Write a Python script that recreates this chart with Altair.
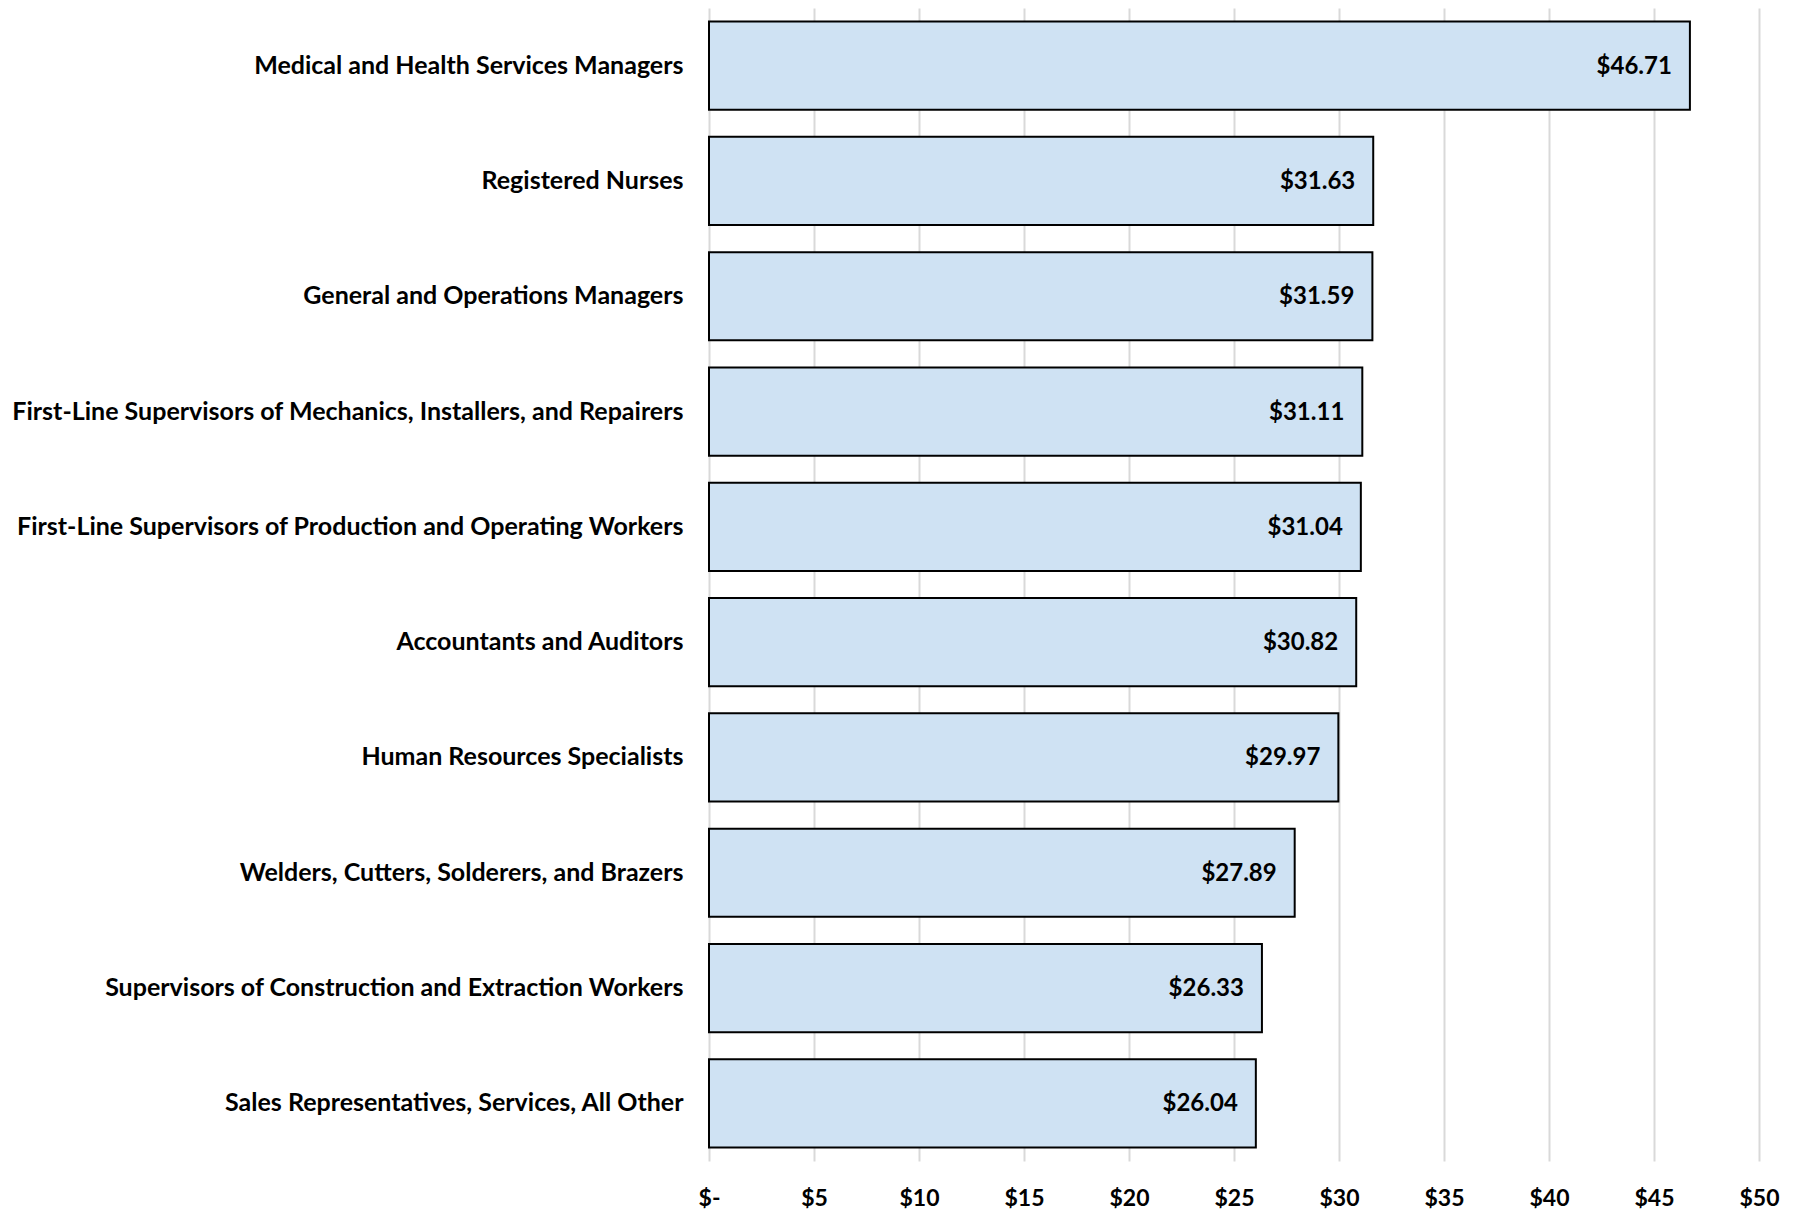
import altair as alt
import pandas as pd

occupations = [
    "Medical and Health Services Managers",
    "Registered Nurses",
    "General and Operations Managers",
    "First-Line Supervisors of Mechanics, Installers, and Repairers",
    "First-Line Supervisors of Production and Operating Workers",
    "Accountants and Auditors",
    "Human Resources Specialists",
    "Welders, Cutters, Solderers, and Brazers",
    "Supervisors of Construction and Extraction Workers",
    "Sales Representatives, Services, All Other",
]
wages = [46.71, 31.63, 31.59, 31.11, 31.04, 30.82, 29.97, 27.89, 26.33, 26.04]
x_ticks = [0, 5, 10, 15, 20, 25, 30, 35, 40, 45, 50]

df = pd.DataFrame({"occupation": occupations, "wage": wages})
df["label"] = ["$" + format(v, ".2f") for v in wages]

FONT = "Lato"

y_enc = alt.Y(
    "occupation:N",
    sort=occupations,
    title=None,
    scale=alt.Scale(paddingInner=0.235, paddingOuter=0.1175),
    axis=alt.Axis(
        labelFont=FONT, labelFontWeight="bold", labelFontSize=25,
        labelColor="#000000", labelPadding=26, ticks=False, domain=False,
        labelLimit=0, grid=False,
    ),
)
x_enc = alt.X(
    "wage:Q",
    title=None,
    scale=alt.Scale(domain=[0, 50], nice=False),
    axis=alt.Axis(
        values=x_ticks,
        labelExpr="datum.value == 0 ? '$-' : '$' + datum.value",
        labelFont=FONT, labelFontWeight="bold", labelFontSize=23,
        labelColor="#000000", labelPadding=26, ticks=False, domain=False,
        labelFlush=False,
        grid=True, gridColor="#d9d9d9", gridWidth=2,
    ),
)

bars = alt.Chart(df).mark_bar(
    fill="#cfe2f3", stroke="#000000", strokeWidth=2
).encode(y=y_enc, x=x_enc)

text = alt.Chart(df).mark_text(
    align="right", baseline="middle", dx=-18, dy=1,
    font=FONT, fontWeight="bold", fontSize=24, color="#000000",
).encode(
    y=alt.Y("occupation:N", sort=occupations),
    x="wage:Q",
    text="label:N",
)

chart = (bars + text).properties(
    width=1050, height=1153,
    padding={"left": 3, "top": 0, "right": 5, "bottom": 5},
).configure_view(stroke=None)

chart.save("out.html", embed_options={"renderer": "svg", "actions": False})
